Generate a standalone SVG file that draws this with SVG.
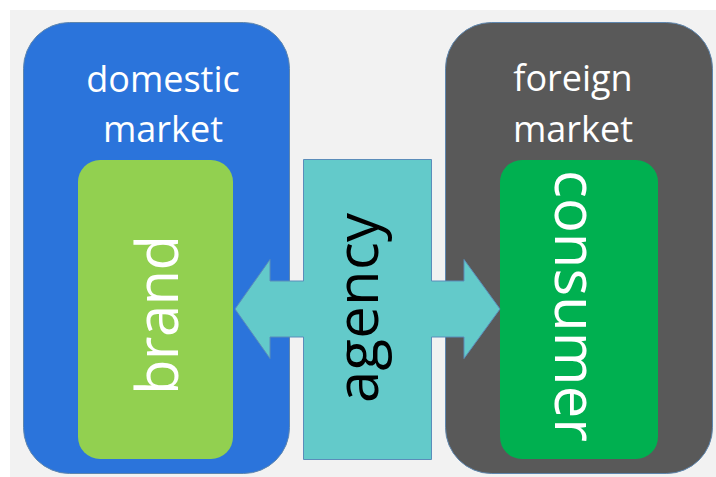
<svg xmlns="http://www.w3.org/2000/svg" width="716" height="477" viewBox="0 0 716 477">
  <style>
    .label { font-family: "Open Sans", "Liberation Sans", sans-serif; }
    .market-title { font-size: 36px; fill: #ffffff; text-anchor: middle; }
    .vert { font-size: 58px; text-anchor: middle; }
    .frame { stroke: #5E86AE; stroke-width: 1; }
  </style>

  <!-- page background -->
  <rect x="0" y="0" width="716" height="477" fill="#ffffff"/>
  <rect x="10" y="10" width="706" height="467" fill="#F2F2F2"/>

  <!-- domestic market with brand -->
  <g id="domestic-market">
    <rect class="frame" x="23.5" y="22.5" width="266" height="451" rx="46" ry="46" fill="#2B74DB"/>
    <text class="label market-title" x="163" y="92">domestic</text>
    <text class="label market-title" x="163" y="142">market</text>
  </g>
  <g id="brand">
    <rect x="78" y="160" width="155" height="299" rx="22" ry="22" fill="#92D050"/>
    <text class="label vert" fill="#ffffff" transform="translate(178,315) rotate(-90)" textLength="160">brand</text>
  </g>

  <!-- foreign market with consumer -->
  <g id="foreign-market">
    <rect class="frame" x="445.5" y="22.5" width="267" height="451" rx="46" ry="46" fill="#595959"/>
    <text class="label market-title" x="573" y="91">foreign</text>
    <text class="label market-title" x="573" y="142">market</text>
  </g>
  <g id="consumer">
    <rect x="500" y="160" width="158" height="299" rx="22" ry="22" fill="#00B050"/>
    <text class="label vert" fill="#ffffff" transform="translate(555,306) rotate(90)" textLength="272">consumer</text>
  </g>

  <!-- agency block joined with its two-way arrow -->
  <g id="connectors">
    <path d="M303.5,159.5 H431.5 V281 H464 V259.5 L500,309 L464,358.5 V337 H431.5 V459.5 H303.5 V337 H270 V358.5 L235,309 L270,259.5 V281 H303.5 Z"
          fill="#63CACA" stroke="#5B8DBA" stroke-width="1"/>
  </g>
  <g id="agency">
    <text class="label vert" fill="#000000" font-size="56" transform="translate(378,308) rotate(-90)" textLength="190">agency</text>
  </g>
</svg>
